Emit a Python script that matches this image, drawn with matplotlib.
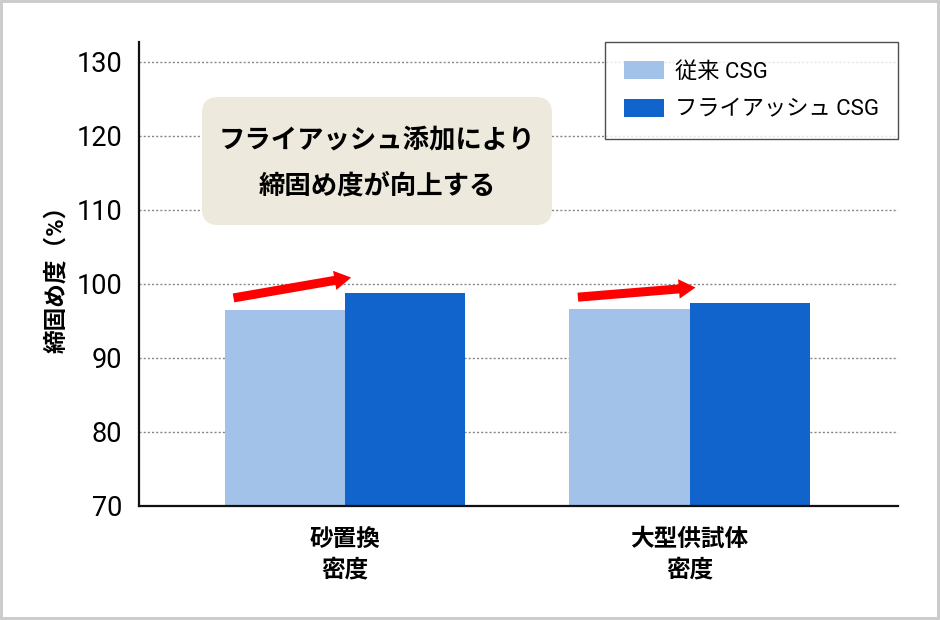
import numpy as np
import matplotlib
matplotlib.use("Agg")
import matplotlib.pyplot as plt
from matplotlib.patches import FancyBboxPatch, Rectangle
from matplotlib.transforms import IdentityTransform

plt.rcParams['font.family'] = ['Roboto', 'Noto Sans CJK JP', 'DejaVu Sans']

categories = ["砂置換\n密度", "大型供試体\n密度"]
series_names = ["従来 CSG", "フライアッシュ CSG"]
conventional = [96.5, 96.6]
flyash = [98.75, 97.4]
yticks = [70, 80, 90, 100, 110, 120, 130]
note_lines = ["フライアッシュ添加により", "締固め度が向上する"]
ylabel = "締固め度（%）"

LIGHT = "#a3c2ea"
DARK = "#1064cc"

fig = plt.figure(figsize=(9.4, 6.2), dpi=100)
ax = fig.add_axes([0.1479, 0.1839, 0.8074, 0.7488])

x = np.arange(len(categories))
w = 0.349
ax.bar(x - w / 2, conventional, w, color=LIGHT, label=series_names[0], zorder=2)
ax.bar(x + w / 2, flyash, w, color=DARK, label=series_names[1], zorder=2)

ax.set_xlim(-0.599, 1.605)
ax.set_ylim(70, 132.7)
ax.set_yticks(yticks)
ax.set_xticks(x)
ax.set_xticklabels(categories, fontsize=17, fontweight="bold", linespacing=1.38)
ax.tick_params(axis="y", length=0, pad=12, labelsize=19.5)
ax.tick_params(axis="x", length=0, pad=16)

for v in yticks[1:]:
    ax.axhline(v, color="#888888", lw=1, ls=(0, (1.5, 1.5)), zorder=1)

for s in ["top", "right"]:
    ax.spines[s].set_visible(False)
for s in ["left", "bottom"]:
    ax.spines[s].set_linewidth(1.6)
    ax.spines[s].set_color("#111111")
    ax.spines[s].set_zorder(3)

ax.set_ylabel(ylabel, fontsize=17, fontweight="bold", labelpad=6)

# red arrows from the conventional bar to the fly ash bar
for i in range(len(categories)):
    ax.annotate("", xy=(x[i] + 0.017, flyash[i] + 2.1),
                xytext=(x[i] - w * 0.93, conventional[i] + 1.6),
                arrowprops=dict(arrowstyle="simple,head_length=12,head_width=14,tail_width=6.5",
                                mutation_scale=1, color="#ff0000", shrinkA=0, shrinkB=0, lw=0),
                zorder=4)

leg = ax.legend(loc="upper right", bbox_to_anchor=(1.0, 1.0), borderaxespad=0,
                fancybox=False, fontsize=16, handlelength=1.8, handleheight=0.9,
                handletextpad=0.5, labelspacing=0.72, borderpad=0.85)
leg.get_frame().set_edgecolor("#222222")
leg.get_frame().set_linewidth(1.0)

# callout box
box = FancyBboxPatch((202, 620 - 225), 350, 128, boxstyle="round,pad=0,rounding_size=16",
                     transform=IdentityTransform(), facecolor="#ede9dc", edgecolor="none")
fig.patches.append(box)
fig.text(377 / 940, 1 - 140 / 620, note_lines[0], fontsize=19, fontweight="bold",
         ha="center", va="center")
fig.text(377 / 940, 1 - 186 / 620, note_lines[1], fontsize=19, fontweight="bold",
         ha="center", va="center")

fig.patches.append(Rectangle((0, 0), 1, 1, transform=fig.transFigure, fill=False,
                             edgecolor="#cccccc", lw=4.3))

fig.savefig("out.png", dpi=100)
